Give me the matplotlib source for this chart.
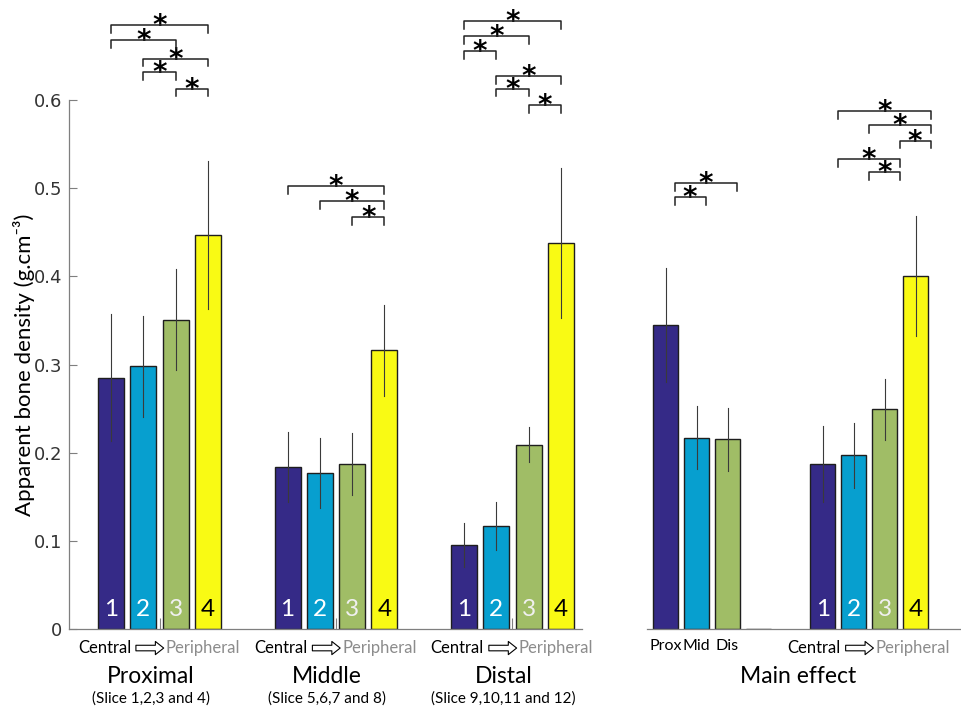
import matplotlib
matplotlib.use('Agg')

import matplotlib.pyplot as plt
from matplotlib import transforms
from matplotlib.transforms import offset_copy

# Slice groups along the bone and their density (mean and SD), rings 1-4 central -> peripheral
groups = ['Proximal', 'Middle', 'Distal']
slices = ['(Slice 1,2,3 and 4)', '(Slice 5,6,7 and 8)', '(Slice 9,10,11 and 12)']
density = [[0.285, 0.298, 0.351, 0.447],
           [0.184, 0.177, 0.187, 0.316],
           [0.095, 0.117, 0.209, 0.438]]
density_sd = [[0.072, 0.057, 0.057, 0.084],
              [0.040, 0.040, 0.035, 0.052],
              [0.025, 0.027, 0.020, 0.085]]

# Main effects: region (prox/mid/dis) and ring (1-4)
region_labels = ['Prox', 'Mid', 'Dis']
region_mean = [0.345, 0.217, 0.215, 0.0]
region_sd = [0.065, 0.036, 0.036, 0.0]
ring_mean = [0.187, 0.197, 0.249, 0.400]
ring_sd = [0.043, 0.037, 0.035, 0.068]
ring_labels = ['1', '2', '3', '4']

# Significant pairs (bar i, bar j, bracket height)
group_sig = [
    [(0, 3, 0.685), (0, 2, 0.668), (1, 3, 0.647), (1, 2, 0.632), (2, 3, 0.613)],
    [(0, 3, 0.502), (1, 3, 0.485), (2, 3, 0.467)],
    [(0, 3, 0.690), (0, 2, 0.673), (0, 1, 0.656), (1, 3, 0.627), (1, 2, 0.613), (2, 3, 0.594)],
]
region_sig = [(0, 2, 0.506), (0, 1, 0.490)]
ring_sig = [(0, 3, 0.588), (1, 3, 0.572), (2, 3, 0.554), (0, 2, 0.533), (1, 2, 0.518)]

colors = ['#352A87', '#079FCF', '#A0BD66', '#F9FA14']
label_colors = ['white', 'white', '#F0F0F0', 'black']

label_font = ['Lato', 'DejaVu Sans']
axis_grey = '#7F7F7F'

fig = plt.figure(figsize=(9.62, 7.11), dpi=100)
ax1 = fig.add_axes([69 / 962, 82 / 711, 513 / 962, 529 / 711])
ax2 = fig.add_axes([647 / 962, 82 / 711, 315 / 962, 529 / 711])


def draw_group(ax, center, means, sds, pitch, width):
    xs = [center + (k - 1.5) * pitch for k in range(4)]
    ax.bar(xs, means, width=width, color=colors, edgecolor='#1E1E1E', linewidth=1.0, zorder=2)
    for x, m, s in zip(xs, means, sds):
        if s > 0:
            ax.plot([x, x], [m - s, m + s], color='#3A3A3A', lw=0.8, zorder=3)
    return xs


def draw_brackets(ax, xs, sig, shift=0.0):
    for i, j, y in sig:
        x0, x1 = xs[i] + shift, xs[j] + shift
        ax.plot([x0, x0, x1, x1], [y - 0.009, y, y, y - 0.009], color='#222222',
                lw=1.1, clip_on=False, zorder=4)
        ax.annotate('*', xy=((x0 + x1) / 2, y), xytext=(0, -6.5), textcoords='offset points',
                    ha='center', va='baseline', fontsize=20, fontweight='bold', color='black',
                    annotation_clip=False)


def ring_numbers(ax, xs):
    for x, t, c in zip(xs, ring_labels, label_colors):
        ax.text(x, 0.022, t, ha='center', va='center', color=c, fontsize=17.5,
                family=label_font, zorder=5)


def central_peripheral(ax, center):
    tr = transforms.blended_transform_factory(ax.transData, ax.transAxes)
    y = -0.036
    ax.text(center, y, 'Central', transform=offset_copy(tr, fig=fig, x=-20.5, units='points'),
            ha='right', va='center', fontsize=12, family=label_font, color='black')
    ax.text(center, y, 'Peripheral', transform=offset_copy(tr, fig=fig, x=4.5, units='points'),
            ha='left', va='center', fontsize=12, family=label_font, color='#8C8C8C')
    ax.annotate('', xy=(center, y), xycoords=offset_copy(tr, fig=fig, x=3, units='points'),
                xytext=(center, y), textcoords=offset_copy(tr, fig=fig, x=-17, units='points'),
                arrowprops=dict(arrowstyle='simple,head_length=0.6,head_width=0.95,tail_width=0.4',
                                fc='white', ec='black', lw=0.8, mutation_scale=10,
                                shrinkA=0, shrinkB=0))


# Region x ring panel
pitch1, width1 = 0.183, 0.147
for g in range(3):
    c = g + 1
    xs = draw_group(ax1, c, density[g], density_sd[g], pitch1, width1)
    draw_brackets(ax1, xs, group_sig[g])
    ring_numbers(ax1, xs)
    central_peripheral(ax1, c)
    tr = transforms.blended_transform_factory(ax1.transData, ax1.transAxes)
    ax1.text(c - 0.05, -0.09, groups[g], transform=tr, ha='center', va='center',
             fontsize=16.5, family=label_font)
    ax1.text(c - 0.05, -0.132, slices[g], transform=tr, ha='center', va='center',
             fontsize=11, family=label_font)

ax1.set_xlim(0.487, 3.394)
ax1.set_ylim(0, 0.6)
ax1.set_xticks([1, 2, 3])
ax1.set_xticklabels([])
ax1.set_yticks([0, 0.1, 0.2, 0.3, 0.4, 0.5, 0.6])
ax1.set_yticklabels(['0', '0.1', '0.2', '0.3', '0.4', '0.5', '0.6'])
ax1.tick_params(axis='both', direction='in', length=6, width=0.8, color=axis_grey,
                labelsize=13, labelcolor='#333333', pad=5)
ax1.tick_params(axis='x', length=8)
for side in ['top', 'right']:
    ax1.spines[side].set_visible(False)
for side in ['left', 'bottom']:
    ax1.spines[side].set_color(axis_grey)
    ax1.spines[side].set_linewidth(0.9)
ax1.set_ylabel('Apparent bone density (g.cm\u207b\u00b3)', fontsize=16, family=label_font,
               labelpad=-1)

# Main effect panel
pitch2, width2 = 0.197, 0.16
xs_region = draw_group(ax2, 1, region_mean, region_sd, pitch2, width2)
draw_brackets(ax2, xs_region, region_sig, shift=0.057)
tr2 = transforms.blended_transform_factory(ax2.transData, ax2.transAxes)
for x, t in zip(xs_region, region_labels):
    ax2.text(x, -0.032, t, transform=tr2, ha='center', va='center', fontsize=11.5,
             family=label_font)

xs_ring = draw_group(ax2, 2, ring_mean, ring_sd, pitch2, width2)
draw_brackets(ax2, xs_ring, ring_sig, shift=0.095)
ring_numbers(ax2, xs_ring)
central_peripheral(ax2, 2)
ax2.text(1.55, -0.09, 'Main effect', transform=tr2, ha='center', va='center',
         fontsize=16.5, family=label_font)

ax2.set_xlim(0.586, 2.59)
ax2.set_ylim(0, 0.6)
ax2.set_xticks([])
ax2.set_yticks([])
for side in ['top', 'right', 'left']:
    ax2.spines[side].set_visible(False)
ax2.spines['bottom'].set_color(axis_grey)
ax2.spines['bottom'].set_linewidth(0.9)

fig.savefig('out.png', dpi=100)
